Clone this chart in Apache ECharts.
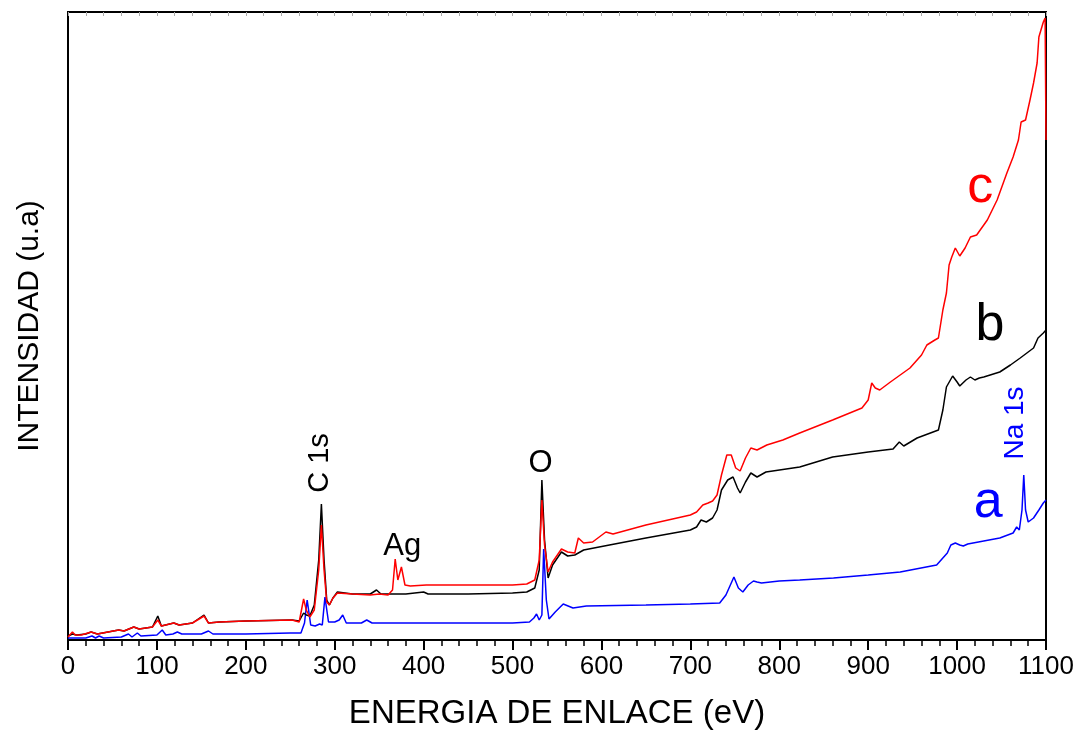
<!DOCTYPE html>
<html>
<head>
<meta charset="utf-8">
<script src="https://cdn.jsdelivr.net/npm/echarts@6/dist/echarts.min.js"></script>
<style>
  html, body { margin: 0; padding: 0; background: #fff; }
  #chartXps { width: 1080px; height: 732px; }
</style>
</head>
<body>
<div id="chartXps"></div>
<script type="text/javascript">
// [energia eV, intensidad u.a.]
var serieA = [[0,2],[20,2],[27,4],[31,2],[35,4],[40,2],[60,3],[68,6],[72,3],[78,7],[82,4],[100,5],[106,10],[110,5],[118,6],[123,8],[128,6],[150,6],[158,9],[163,6],[200,6],[250,7],[262,7],[266,17],[269,40],[273,15],[278,14],[283,16],[286,15],[289,43],[293,18],[300,18],[305,20],[309,25],[313,17],[330,17],[336,20],[342,17],[400,17],[450,17],[500,17],[519,18],[524,22],[527,26],[530,20],[533,25],[535,91],[538,40],[541,21],[548,28],[557,36],[568,32],[583,34],[650,35],[700,36],[733,37],[740,45],[745,55],[749,63],[754,52],[759,48],[765,55],[771,59],[775,58],[780,57],[800,59],[823,60],[861,62],[900,65],[936,68],[977,75],[985,83],[989,87],[993,95],[998,97],[1003,95],[1007,94],[1012,96],[1018,97],[1030,99],[1048,102],[1063,107],[1067,113],[1070,110],[1073,130],[1075,165],[1077,130],[1080,118],[1086,122],[1092,130],[1097,137],[1100,140]];

var serieB = [[0,4],[5,6],[10,5],[20,6],[26,8],[33,6],[45,8],[57,10],[63,9],[74,13],[80,11],[95,13],[101,24],[105,14],[119,17],[125,15],[140,17],[153,25],[158,17],[170,18],[200,19],[252,20],[260,19],[265,27],[268,25],[272,24],[277,35],[282,80],[285,136],[288,80],[291,40],[294,35],[298,42],[303,48],[320,46],[340,46],[347,50],[352,46],[370,46],[380,46],[400,48],[405,46],[450,46],[500,47],[516,48],[525,52],[530,70],[533,160],[536,100],[540,62],[545,75],[555,88],[562,84],[570,85],[580,90],[609,95],[650,102],[700,110],[707,113],[712,120],[718,118],[725,122],[730,130],[735,150],[742,160],[748,163],[753,152],[756,147],[762,158],[768,167],[775,163],[785,168],[823,173],[860,183],[900,188],[928,191],[935,198],[940,194],[955,202],[970,207],[979,210],[984,230],[988,253],[995,264],[1000,258],[1003,254],[1010,260],[1015,263],[1020,260],[1025,262],[1030,263],[1048,268],[1060,275],[1071,282],[1080,288],[1086,292],[1091,302],[1097,307],[1100,310]];

var serieC = [[0,3],[5,8],[8,5],[15,5],[26,8],[33,6],[45,8],[57,10],[63,9],[74,13],[80,11],[95,13],[101,20],[105,14],[119,17],[125,15],[140,17],[153,24],[158,17],[170,18],[200,19],[252,20],[260,18],[265,41],[268,30],[272,23],[277,30],[282,70],[285,115],[288,70],[291,38],[294,35],[298,42],[303,47],[320,46],[340,45],[350,46],[360,45],[365,50],[368,81],[371,60],[375,73],[379,55],[385,54],[403,55],[450,55],[500,55],[516,56],[525,60],[530,80],[533,140],[536,95],[540,68],[545,78],[555,91],[562,88],[570,87],[574,102],[580,97],[590,98],[605,108],[613,106],[650,115],[700,125],[707,128],[714,135],[720,137],[725,139],[730,145],[735,165],[741,185],[746,185],[751,172],[756,169],[762,182],[768,192],[775,190],[786,195],[804,200],[823,207],[860,220],[893,232],[900,240],[904,257],[908,252],[913,250],[925,258],[936,265],[947,272],[960,285],[966,295],[975,300],[979,302],[984,330],[988,347],[991,375],[994,383],[998,392],[1003,384],[1009,392],[1015,403],[1022,405],[1034,420],[1045,440],[1056,467],[1063,483],[1069,500],[1072,518],[1077,520],[1082,540],[1086,557],[1090,577],[1092,603],[1097,618],[1099,622],[1100,500]];

// posiciones de las marcas menores del eje de energia (cada 20 eV)
var marcasMenores = [];
for (var m = 0; m <= 1100; m += 20) { marcasMenores.push(String(m)); }

// etiquetas: [texto, eV, intensidad, color, girado, tamaño]
var etiquetas = [
	['c', 1026, 452, '#ff0000', false, 52],
	['b', 1037, 314, '#000000', false, 52],
	['a', 1035, 137, '#0000ff', false, 52],
	['Na 1s', 1065, 217, '#0000ff', true, 28],
	['C 1s', 283, 177, '#000000', true, 29],
	['O', 531.5, 177, '#000000', false, 31],
	['Ag', 376, 94, '#000000', false, 31]
];

var chartXps = echarts.init(document.getElementById('chartXps'));
var option_xps = {
	animation: false,
	grid: {
		left: 68,
		right: 34,
		top: 12,
		bottom: 92,
		outerBoundsMode: 'none',
		containLabel: false,
		show: true,
		borderColor: '#000',
		borderWidth: 2
	},
	xAxis: [
		{
			type: 'value',
			position: 'bottom',
			min: 0,
			max: 1100,
			interval: 100,
			name: 'ENERGIA DE ENLACE (eV)',
			nameLocation: 'middle',
			nameGap: 57,
			nameTextStyle: { color: '#000', fontSize: 33, fontFamily: 'Liberation Sans, Arial, sans-serif' },
			axisLine: { lineStyle: { color: '#000', width: 2 } },
			axisTick: { show: true, length: 10, lineStyle: { color: '#000', width: 2 } },
			axisLabel: {
				color: '#000', fontSize: 26, margin: 14,
				fontFamily: 'Liberation Sans Narrow, Arial Narrow, sans-serif',
				formatter: function (v) { return String(v); }
			},
			splitLine: { show: false }
		},
		{
			// marcas menores abajo
			type: 'category',
			position: 'bottom',
			data: marcasMenores,
			boundaryGap: false,
			axisLine: { show: false },
			axisTick: { show: true, interval: 0, length: 6, lineStyle: { color: '#000', width: 1.5 } },
			axisLabel: { show: false, interval: 0 },
			splitLine: { show: false }
		},
		{
			// marcas menores arriba
			type: 'category',
			position: 'top',
			data: marcasMenores,
			boundaryGap: false,
			axisLine: { show: true, lineStyle: { color: '#000', width: 2 } },
			axisTick: { show: true, interval: 0, inside: true, length: 4, lineStyle: { color: '#aaa' } },
			axisLabel: { show: false, interval: 0 },
			splitLine: { show: false }
		}
	],
	yAxis: {
		type: 'value',
		min: 0,
		max: 628,
		name: 'INTENSIDAD (u.a)',
		nameLocation: 'middle',
		nameGap: 23,
		nameTextStyle: { color: '#000', fontSize: 30, fontFamily: 'Liberation Sans, Arial, sans-serif' },
		axisLine: { show: true, lineStyle: { color: '#000', width: 2 } },
		axisTick: { show: false },
		axisLabel: { show: false },
		splitLine: { show: false }
	},
	series: [
		{ name: 'a', type: 'line', xAxisIndex: 0, data: serieA, showSymbol: false, lineStyle: { color: '#0000ff', width: 1.5 } },
		{ name: 'b', type: 'line', xAxisIndex: 0, data: serieB, showSymbol: false, lineStyle: { color: '#000000', width: 1.5 } },
		{ name: 'c', type: 'line', xAxisIndex: 0, data: serieC, showSymbol: false, lineStyle: { color: '#ff0000', width: 1.5 } }
	]
};
chartXps.setOption(option_xps);

// textos sobre el grafico, colocados en coordenadas de datos
var textos = etiquetas.map(function (e) {
	var p = chartXps.convertToPixel({ xAxisIndex: 0, yAxisIndex: 0 }, [e[1], e[2]]);
	return {
		type: 'text',
		x: p[0],
		y: p[1],
		rotation: e[4] ? Math.PI / 2 : 0,
		style: {
			text: e[0],
			fill: e[3],
			fontSize: e[5],
			fontFamily: 'Liberation Sans, Arial, sans-serif',
			align: 'center',
			verticalAlign: 'middle'
		}
	};
});
chartXps.setOption({ graphic: textos });
</script>
</body>
</html>
